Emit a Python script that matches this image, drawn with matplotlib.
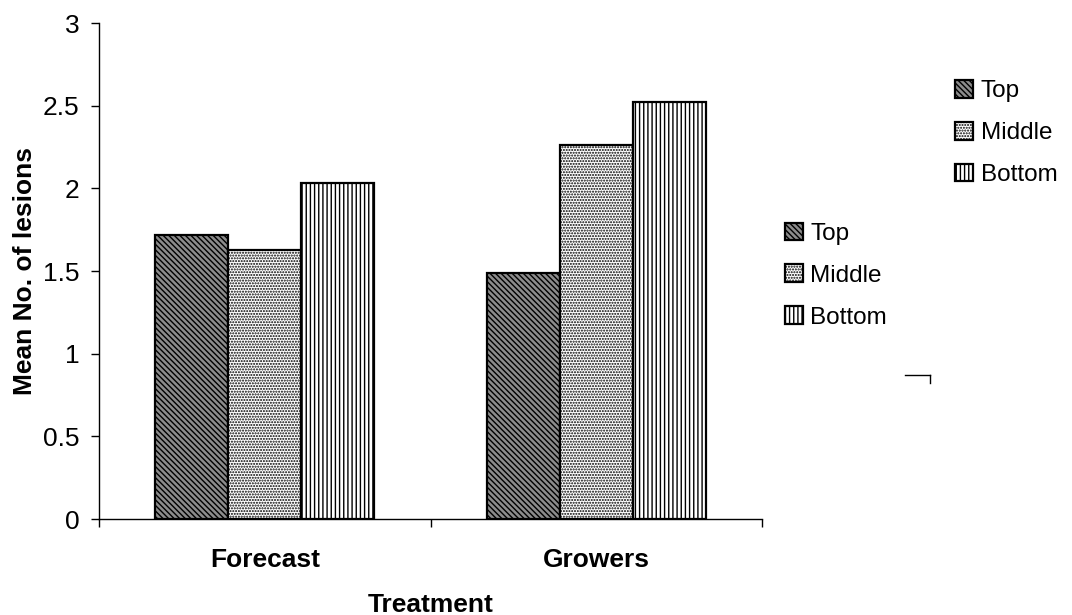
import matplotlib.pyplot as plt
import numpy as np

plt.rcParams['font.family'] = ['Liberation Sans', 'DejaVu Sans']
plt.rcParams['hatch.linewidth'] = 1.0

treatments = ['Forecast', 'Growers']
positions = ['Top', 'Middle', 'Bottom']
top = [1.72, 1.49]
middle = [1.63, 2.26]
bottom = [2.03, 2.52]

hatches = ['\\\\\\\\\\\\', '......', '||||']
faces = ['#8c8c8c', 'white', 'white']

fig = plt.figure(figsize=(10.72, 6.15), dpi=100)
ax = fig.add_axes([0.0924, 0.156, 0.6185, 0.8066])

x = np.arange(len(treatments)) + 0.5
w = 0.22
bars = []
for k, vals in enumerate([top, middle, bottom]):
    b = ax.bar(x + (k - 1) * w, vals, w, color=faces[k], edgecolor='black',
               hatch=hatches[k], linewidth=1.6, label=positions[k])
    bars.append(b)

ax.set_xlim(0, 2)
ax.set_ylim(0, 3)
ax.set_yticks([0, 0.5, 1, 1.5, 2, 2.5, 3])
ax.set_yticklabels(['0', '0.5', '1', '1.5', '2', '2.5', '3'])
ax.set_xticks([0, 1, 2], minor=False)
ax.set_xticklabels([])
ax.set_xticks(x, minor=True)
ax.set_xticklabels(treatments, minor=True, fontsize=19, fontweight='bold')
ax.tick_params(axis='x', which='minor', length=0, pad=21)
ax.tick_params(axis='x', which='major', length=6, direction='out', width=1)
ax.tick_params(axis='y', length=6, direction='out', width=1, labelsize=19, pad=8)
for s in ['top', 'right']:
    ax.spines[s].set_visible(False)
ax.spines['left'].set_linewidth(1)
ax.spines['bottom'].set_linewidth(1)
ax.set_ylabel('Mean No. of lesions', fontsize=19, fontweight='bold', labelpad=4)
ax.set_xlabel('Treatment', fontsize=19, fontweight='bold', labelpad=15)

leg_kw = dict(frameon=False, fontsize=17.5, handlelength=0.75, handleheight=0.75,
              handletextpad=0.3, labelspacing=0.8, borderaxespad=0, borderpad=0)
leg1 = fig.legend(handles=[b[0] for b in bars], labels=positions,
                  loc='upper left', bbox_to_anchor=(0.891, 0.870), **leg_kw)
leg2 = fig.legend(handles=[b[0] for b in bars], labels=positions,
                  loc='upper left', bbox_to_anchor=(0.732, 0.638), **leg_kw)

# small corner mark
fig.add_artist(plt.Line2D([905 / 1072, 930 / 1072], [1 - 375 / 615, 1 - 375 / 615],
                          color='black', lw=1))
fig.add_artist(plt.Line2D([930 / 1072, 930 / 1072], [1 - 375 / 615, 1 - 383 / 615],
                          color='black', lw=1))

plt.savefig('out.png', dpi=100)
